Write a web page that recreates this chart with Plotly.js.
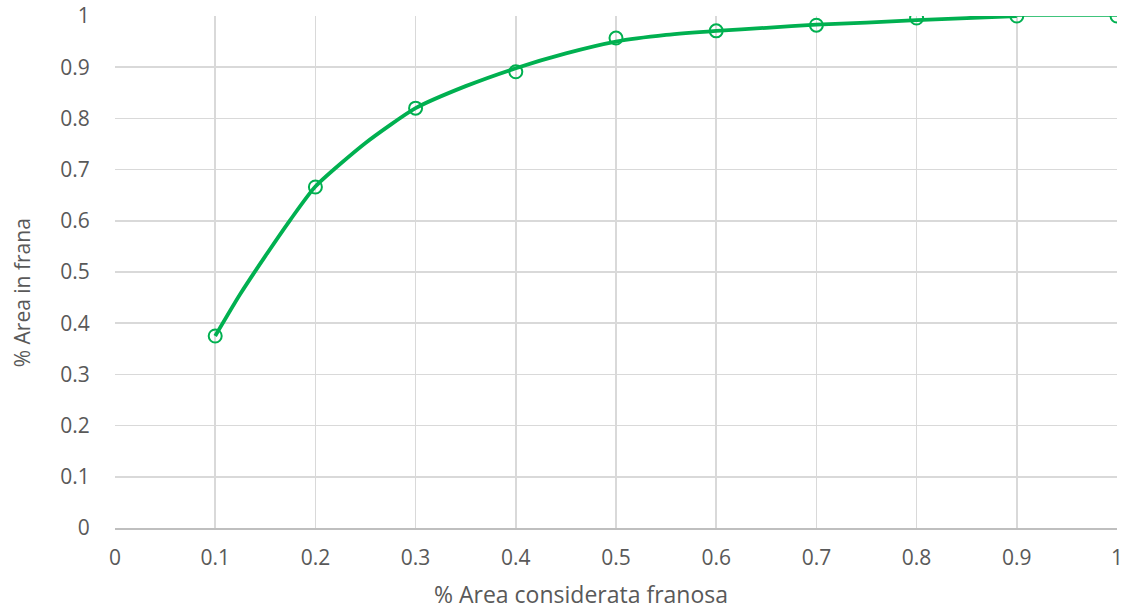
<!DOCTYPE html>
<html>
<head>
<meta charset="utf-8">
<script src="https://cdn.plot.ly/plotly-3.0.1.min.js"></script>
<style>html,body{margin:0;padding:0;background:#fff;}#chart{width:1127px;height:611px;}</style>
</head>
<body>
<div id="chart"></div>
<script>
// Data points
const xPoints = [0.1, 0.2, 0.3, 0.4, 0.5, 0.6, 0.7, 0.8, 0.9, 1.0];
const yPoints = [0.375, 0.666, 0.820, 0.891, 0.957, 0.971, 0.982, 0.996, 1.0, 1.0];

// Trend curve
const xTrend = [0.1, 0.125, 0.15, 0.175, 0.2, 0.25, 0.3, 0.35, 0.4, 0.45, 0.5, 0.55, 0.6, 0.65, 0.7, 0.75, 0.8, 0.85, 0.9];
const yTrend = [0.375, 0.457, 0.531, 0.602, 0.667, 0.752, 0.820, 0.863, 0.898, 0.927, 0.950, 0.963, 0.971, 0.977, 0.983, 0.987, 0.992, 0.996, 1.0];

const xTicks = [0, 0.1, 0.2, 0.3, 0.4, 0.5, 0.6, 0.7, 0.8, 0.9, 1];
const xTickText = ['0', '0.1', '0.2', '0.3', '0.4', '0.5', '0.6', '0.7', '0.8', '0.9', '1'];
const yTicks = [0, 0.1, 0.2, 0.3, 0.4, 0.5, 0.6, 0.7, 0.8, 0.9, 1];
const yTickText = ['0', '0.1', '0.2', '0.3', '0.4', '0.5', '0.6', '0.7', '0.8', '0.9', '1'];

const xTitle = '% Area considerata franosa';
const yTitle = '% Area in frana';

const green = '#00b050';

const traces = [
  {
    x: xPoints.slice(8), y: yPoints.slice(8), type: 'scatter', mode: 'lines',
    line: {color: green, width: 1.5},
    hoverinfo: 'skip', showlegend: false
  },
  {
    x: xTrend, y: yTrend, type: 'scatter', mode: 'lines',
    line: {color: green, width: 3.8, shape: 'spline', smoothing: 0.6},
    hoverinfo: 'skip', showlegend: false
  },
  {
    x: xPoints, y: yPoints, type: 'scatter', mode: 'markers',
    marker: {symbol: 'circle-open', size: 13, color: green, line: {width: 2, color: green}},
    showlegend: false
  }
];

const fam = 'Open Sans, Liberation Sans, sans-serif';
const tickFont = {family: fam, size: 21, color: '#595959'};

const layout = {
  width: 1127, height: 611,
  margin: {l: 115, r: 10, t: 16, b: 83},
  paper_bgcolor: '#ffffff', plot_bgcolor: '#ffffff',
  showlegend: false,
  xaxis: {
    range: [0, 1], tickvals: xTicks, ticktext: xTickText,
    showgrid: true, gridcolor: '#d9d9d9', gridwidth: 1.5,
    zeroline: false, showline: true, linecolor: '#bfbfbf', linewidth: 1.5,
    ticks: 'outside', ticklen: 10, tickcolor: 'rgba(0,0,0,0)',
    tickfont: tickFont
  },
  yaxis: {
    range: [0, 1], tickvals: yTicks, ticktext: yTickText,
    showgrid: true, gridcolor: '#d9d9d9', gridwidth: 1.5,
    zeroline: false, showline: false,
    ticks: 'outside', ticklen: 20, tickcolor: 'rgba(0,0,0,0)',
    tickfont: tickFont
  },
  annotations: [
    {text: xTitle, xref: 'paper', yref: 'paper', x: 0.465, y: -0.128, xanchor: 'center', yanchor: 'middle',
     showarrow: false, font: {family: fam, size: 23, color: '#595959'}},
    {text: yTitle, xref: 'paper', yref: 'paper', x: -0.092, y: 0.46, xanchor: 'center', yanchor: 'middle',
     textangle: -90, showarrow: false, font: {family: fam, size: 21, color: '#595959'}}
  ]
};

Plotly.newPlot('chart', traces, layout, {displayModeBar: false, staticPlot: true});
</script>
</body>
</html>
